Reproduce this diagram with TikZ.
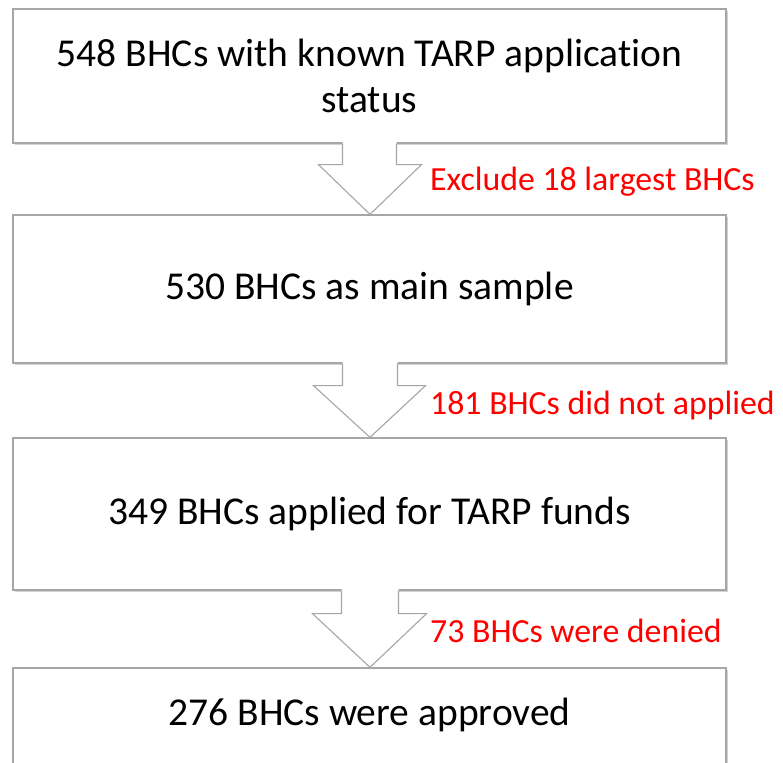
\documentclass[tikz,border=0pt]{standalone}
\usepackage{fontspec}
\setmainfont[Ligatures={NoCommon,NoRare}]{Carlito}
\usetikzlibrary{calc,shadows}
\definecolor{edge}{HTML}{A6A6A6}
\definecolor{note}{HTML}{FF0000}
\tikzset{
  x=1pt,y=1pt,
  stagebox/.style={draw=edge,line width=1.3pt,fill=white,minimum width=713pt,inner sep=0pt,
    align=center,font=\fontsize{39.5}{46}\selectfont,text=black,
    drop shadow={shadow xshift=1.8pt,shadow yshift=-1.8pt,opacity=0.35,fill=gray}},
  blockarrow/.style={draw=edge,line width=1.1pt,fill=white,line join=miter},
  notetext/.style={anchor=west,inner sep=0pt,text=note,font=\fontsize{33.8}{38}\selectfont}
}
\begin{document}
\begin{tikzpicture}
\clip (0,0) rectangle (783,-762);
\fill[white] (0,0) rectangle (783,-762);
\node[stagebox,minimum height=134pt] (b1) at (369.5,-76) {548 BHCs with known TARP application\\status};
\node[stagebox,minimum height=148pt] (b2) at (369.5,-289) {530 BHCs as main sample};
\node[stagebox,minimum height=152pt] (b3) at (369.5,-514) {349 BHCs applied for TARP funds};
\node[stagebox,minimum height=210pt] (b4) at (369.5,-773) {};
\node[anchor=center,font=\fontsize{39.5}{46}\selectfont] (t4) at (369.5,-715) {276 BHCs were approved};
% block arrows
\foreach \top/\bot/\sl/\sr/\hy/\hl/\hr in {b1/b2/27/27/21/51/52, b2/b3/27/28/22/56/56, b3/b4/28/29/23/57/57}{
  \coordinate (s) at (\top.south);
  \coordinate (e) at (\bot.north);
  \fill[white] ($(s)+(-\sl,1.5)$) -- ($(s)+(-\sl,-\hy)$) -- ($(s)+(-\hl,-\hy)$) -- ($(e)+(0.5,0)$) -- ($(s)+(\hr,-\hy)$) -- ($(s)+(\sr,-\hy)$) -- ($(s)+(\sr,1.5)$) -- cycle;
  \draw[blockarrow,fill=none] ($(s)+(-\sl,0)$) -- ($(s)+(-\sl,-\hy)$) -- ($(s)+(-\hl,-\hy)$) -- ($(e)+(0.5,0)$) -- ($(s)+(\hr,-\hy)$) -- ($(s)+(\sr,-\hy)$) -- ($(s)+(\sr,0)$);
}
\node[notetext] (n1) at (430,-182) {Exclude 18 largest BHCs};
\node[notetext] (n2) at (430,-405) {181 BHCs did not applied};
\node[notetext] (n3) at (430,-631) {73 BHCs were denied};
\end{tikzpicture}
\end{document}
